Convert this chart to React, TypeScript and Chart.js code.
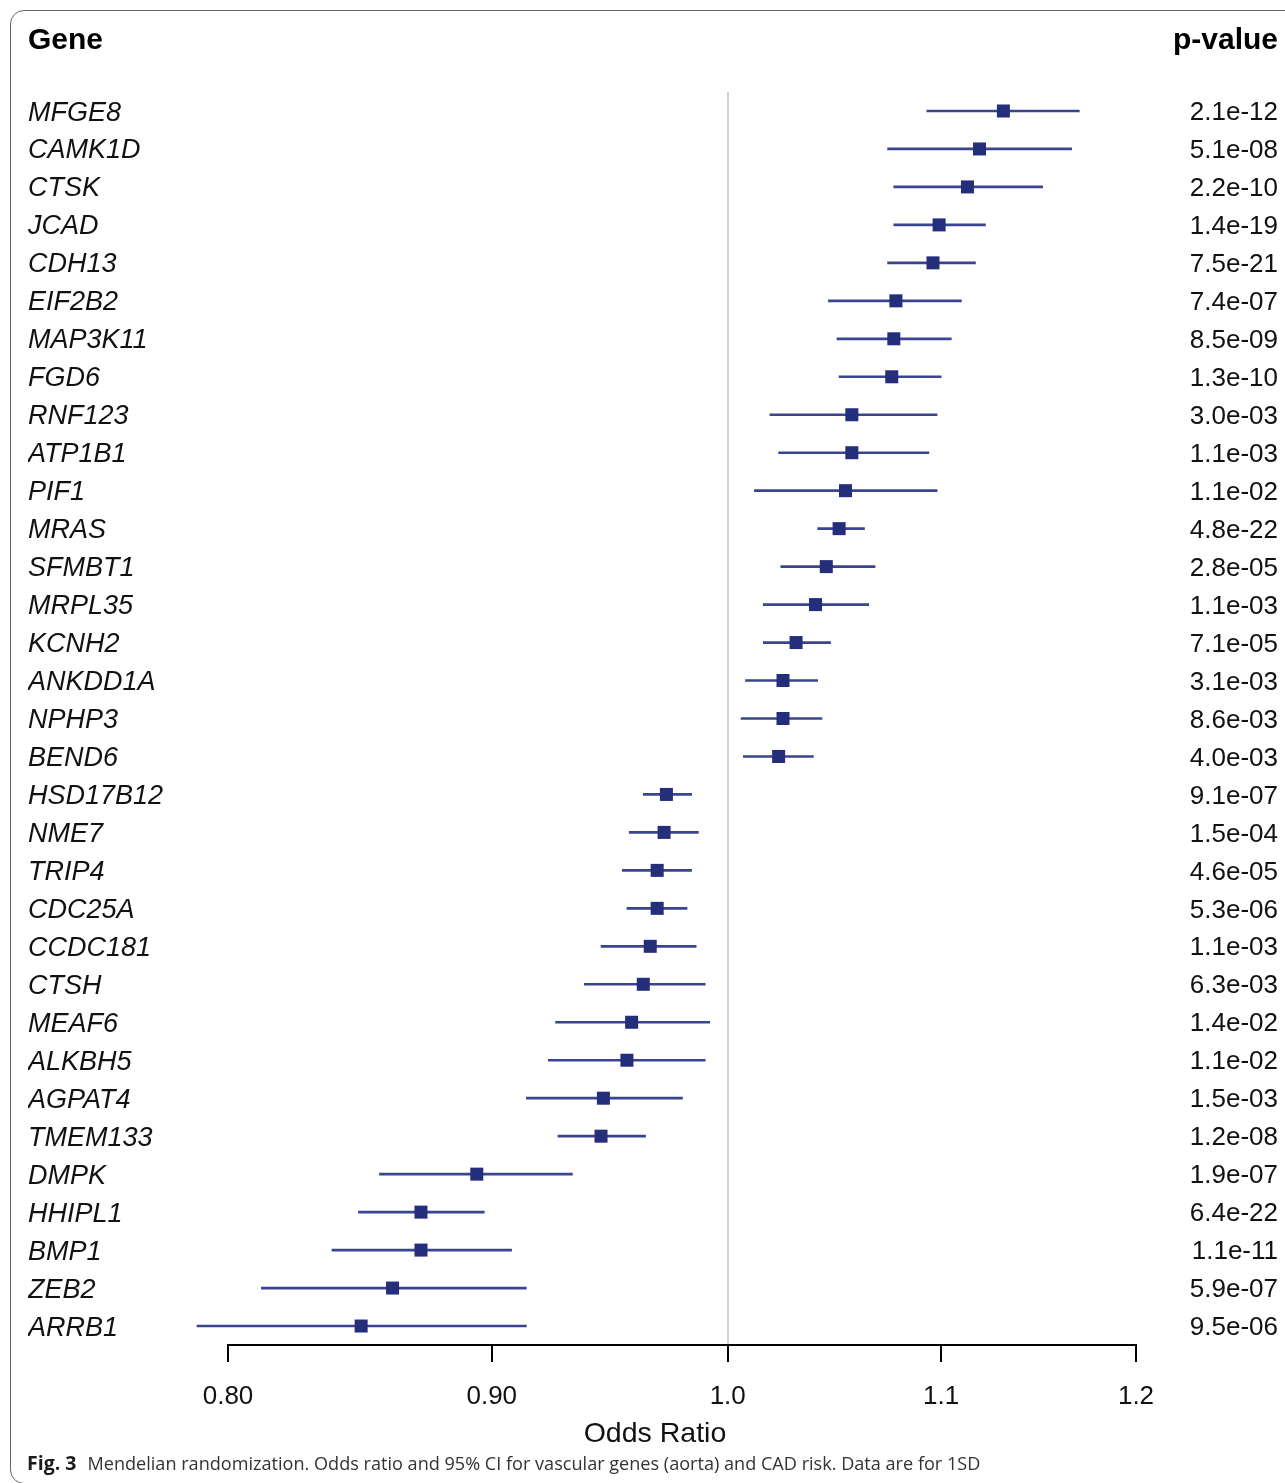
import React, { useEffect, useRef } from "react";
import { Chart, registerables } from "chart.js";

Chart.register(...registerables);

const genes = [
  "MFGE8", "CAMK1D", "CTSK", "JCAD", "CDH13", "EIF2B2", "MAP3K11", "FGD6",
  "RNF123", "ATP1B1", "PIF1", "MRAS", "SFMBT1", "MRPL35", "KCNH2", "ANKDD1A",
  "NPHP3", "BEND6", "HSD17B12", "NME7", "TRIP4", "CDC25A", "CCDC181", "CTSH",
  "MEAF6", "ALKBH5", "AGPAT4", "TMEM133", "DMPK", "HHIPL1", "BMP1", "ZEB2", "ARRB1",
];

const oddsRatio = [
  1.131, 1.119, 1.113, 1.099, 1.096, 1.078, 1.077, 1.076,
  1.057, 1.057, 1.054, 1.051, 1.045, 1.040, 1.031, 1.025,
  1.025, 1.023, 0.973, 0.972, 0.969, 0.969, 0.966, 0.963,
  0.958, 0.956, 0.946, 0.945, 0.894, 0.872, 0.872, 0.861, 0.849,
];

const ciLower = [
  1.093, 1.074, 1.077, 1.077, 1.074, 1.046, 1.050, 1.051,
  1.019, 1.023, 1.012, 1.041, 1.024, 1.016, 1.016, 1.008,
  1.006, 1.007, 0.963, 0.957, 0.954, 0.956, 0.945, 0.938,
  0.926, 0.923, 0.914, 0.927, 0.856, 0.848, 0.838, 0.812, 0.789,
];

const ciUpper = [
  1.170, 1.166, 1.151, 1.122, 1.117, 1.110, 1.105, 1.100,
  1.098, 1.094, 1.098, 1.063, 1.068, 1.065, 1.047, 1.041,
  1.043, 1.039, 0.984, 0.987, 0.984, 0.982, 0.986, 0.990,
  0.992, 0.990, 0.980, 0.964, 0.933, 0.897, 0.908, 0.914, 0.914,
];

const pValues = [
  "2.1e-12", "5.1e-08", "2.2e-10", "1.4e-19", "7.5e-21", "7.4e-07", "8.5e-09", "1.3e-10",
  "3.0e-03", "1.1e-03", "1.1e-02", "4.8e-22", "2.8e-05", "1.1e-03", "7.1e-05", "3.1e-03",
  "8.6e-03", "4.0e-03", "9.1e-07", "1.5e-04", "4.6e-05", "5.3e-06", "1.1e-03", "6.3e-03",
  "1.4e-02", "1.1e-02", "1.5e-03", "1.2e-08", "1.9e-07", "6.4e-22", "1.1e-11", "5.9e-07", "9.5e-06",
];

const xTickValues = [0.8, 0.9, 1.0, 1.1, 1.2];
const xTickLabels = ["0.80", "0.90", "1.0", "1.1", "1.2"];

const FONT = "'Liberation Sans', Arial, sans-serif";
const MARKER = "#242e7a";
const LINE = "#3a4590";

export default function App() {
  const canvasRef = useRef<HTMLCanvasElement | null>(null);

  useEffect(() => {
    const canvas = canvasRef.current;
    if (!canvas) return;
    const chart = new Chart(canvas, {
      type: "bar",
      data: {
        labels: genes,
        datasets: [
          {
            type: "scatter",
            label: "Odds ratio",
            data: genes.map((g, i) => ({ x: oddsRatio[i], y: g })),
            pointStyle: "rect",
            pointRadius: 9.2,
            backgroundColor: MARKER,
            borderColor: MARKER,
            borderWidth: 0,
            clip: false,
            order: 0,
            xAxisID: "x",
            yAxisID: "y",
          } as any,
          {
            type: "bar",
            label: "95% CI",
            data: genes.map((g, i) => [ciLower[i], ciUpper[i]]),
            backgroundColor: LINE,
            borderWidth: 0,
            barThickness: 2,
            clip: false,
            order: 1,
            xAxisID: "x",
            yAxisID: "y",
          } as any,
        ],
      },
      options: {
        indexAxis: "y",
        responsive: false,
        animation: false,
        events: [],
        layout: { padding: { left: 28, right: 7, top: 92, bottom: 0 } },
        plugins: { legend: { display: false }, tooltip: { enabled: false } },
        scales: {
          x: {
            type: "logarithmic",
            position: "bottom",
            min: 0.8,
            max: 1.2,
            afterBuildTicks: (s: any) => {
              s.ticks = xTickValues.map((v) => ({ value: v }));
            },
            afterFit: (s: any) => {
              s.height = 138;
            },
            ticks: {
              autoSkip: false,
              maxRotation: 0,
              padding: 19,
              color: "#111",
              font: { family: FONT, size: 26 },
              callback: (_v: any, i: number) => xTickLabels[i],
            },
            grid: {
              display: true,
              drawOnChartArea: true,
              drawTicks: true,
              tickLength: 17,
              tickWidth: 2,
              tickColor: "#000",
              lineWidth: 2,
              color: (ctx: any) =>
                ctx.tick && ctx.tick.value === 1 ? "#d2d2d2" : "rgba(0,0,0,0)",
            },
            border: { display: true, color: "#000", width: 2 },
          },
          y: {
            type: "category",
            position: "left",
            offset: true,
            afterFit: (s: any) => {
              s.width = 200;
            },
            ticks: {
              crossAlign: "far",
              labelOffset: 2,
              color: "#111",
              font: { family: FONT, size: 27, style: "italic" },
              autoSkip: false,
            },
            grid: { display: false },
            border: { display: false },
          },
          y2: {
            type: "category",
            position: "right",
            labels: pValues,
            offset: true,
            afterFit: (s: any) => {
              s.width = 142;
            },
            ticks: {
              crossAlign: "far",
              labelOffset: 2,
              color: "#111",
              font: { family: FONT, size: 26 },
              autoSkip: false,
            },
            grid: { display: false },
            border: { display: false },
          },
        } as any,
      },
    });
    return () => chart.destroy();
  }, []);

  return (
    <div
      style={{
        position: "absolute",
        left: 0,
        top: 0,
        width: 1285,
        height: 1483,
        overflow: "hidden",
        background: "#fff",
      }}
    >
      <div
        style={{
          position: "absolute",
          left: 10,
          top: 10,
          width: 1320,
          height: 1474,
          border: "1.5px solid #666",
          borderRadius: 14,
          boxSizing: "border-box",
        }}
      />
      <canvas
        ref={canvasRef}
        width={1285}
        height={1483}
        style={{ position: "absolute", left: 0, top: 0, display: "block" }}
      />
      <div
        style={{
          position: "absolute",
          left: 28,
          top: 24,
          font: `bold 30px ${FONT}`,
          lineHeight: "30px",
          color: "#000",
        }}
      >
        Gene
      </div>
      <div
        style={{
          position: "absolute",
          left: 0,
          width: 1278,
          top: 24,
          textAlign: "right",
          font: `bold 30px ${FONT}`,
          lineHeight: "30px",
          color: "#000",
        }}
      >
        p-value
      </div>
      <div
        style={{
          position: "absolute",
          left: 455,
          width: 400,
          top: 1418,
          textAlign: "center",
          font: `28.5px ${FONT}`,
          lineHeight: "28px",
          color: "#111",
        }}
      >
        Odds Ratio
      </div>
      <div
        style={{
          position: "absolute",
          left: 27,
          top: 1451,
          font: `18.1px 'Open Sans', 'Noto Sans', sans-serif`,
          lineHeight: "24px",
          color: "#333",
          whiteSpace: "nowrap",
        }}
      >
        <span style={{ fontWeight: 700, color: "#1a1a1a", fontSize: 19.5 }}>Fig. 3</span>
        <span style={{ marginLeft: 11 }}>
          Mendelian randomization. Odds ratio and 95% CI for vascular genes (aorta) and CAD risk. Data are for 1SD
        </span>
      </div>
    </div>
  );
}
